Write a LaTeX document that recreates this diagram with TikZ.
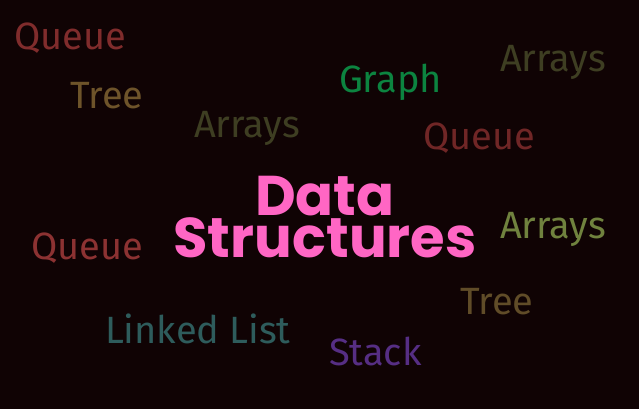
\documentclass[tikz,border=0pt]{standalone}
\usepackage{fontspec}
\newfontfamily\wordfont{Fira Sans}
\newfontfamily\titlefont{Poppins}
\definecolor{bg}{RGB}{16,3,4}
\definecolor{cqueue}{RGB}{128,44,44}
\definecolor{cqueueb}{RGB}{112,38,38}
\definecolor{cqueuec}{RGB}{140,50,50}
\definecolor{ctree}{RGB}{110,84,42}
\definecolor{ctreeb}{RGB}{96,76,40}
\definecolor{carrdark}{RGB}{62,62,34}
\definecolor{carrlight}{RGB}{112,130,62}
\definecolor{cgraph}{RGB}{12,132,64}
\definecolor{clinked}{RGB}{46,92,92}
\definecolor{cstack}{RGB}{86,46,132}
\definecolor{ctitle}{RGB}{255,102,196}
\tikzset{
  word/.style={anchor=base west, inner sep=0pt, outer sep=0pt, font=\wordfont\fontsize{38}{40}\selectfont},
  title/.style={anchor=base, inner sep=0pt, outer sep=0pt, align=center, text=ctitle, font=\titlefont\bfseries\fontsize{56}{40}\selectfont}
}
\begin{document}
\begin{tikzpicture}[x=1pt,y=-1pt]
\fill[bg] (0,0) rectangle (639,409);
\useasboundingbox (0,0) rectangle (639,409);
\node[word, text=cqueue] (q1) at (14,50) {Queue};
\node[word, text=ctree] (t1) at (70,109) {Tree};
\node[word, text=carrdark] (a1) at (194,137) {Arrays};
\node[word, text=cgraph] (g) at (339,93) {Graph};
\node[word, text=carrdark] (a2) at (500,72) {Arrays};
\node[word, text=cqueueb] (q2) at (423,149) {Queue};
\node[word, text=cqueuec] (q3) at (31,259) {Queue};
\node[word, text=carrlight] (a3) at (500,238) {Arrays};
\node[word, text=ctreeb] (t2) at (460,314) {Tree};
\node[word, text=clinked] (ll) at (105,343) {Linked List};
\node[word, text=cstack] (st) at (329,365) {Stack};
\node[title] (ds) at (325,257) {Data\\Structures};
\end{tikzpicture}
\end{document}
